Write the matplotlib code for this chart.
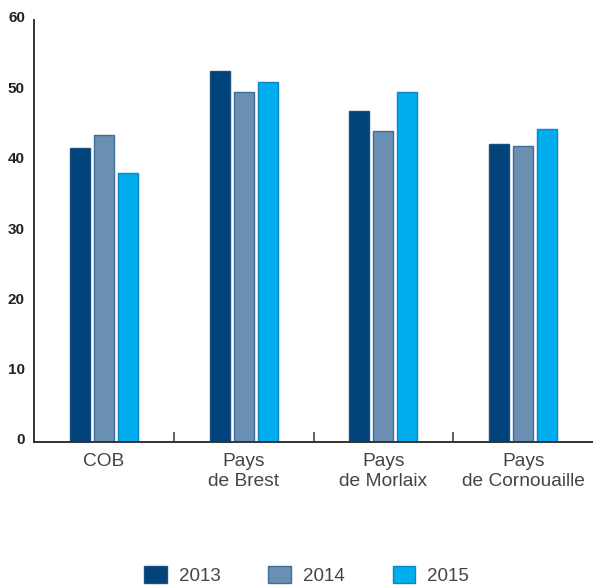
import matplotlib
matplotlib.use("Agg")
import matplotlib.pyplot as plt
import matplotlib.transforms as mtransforms
import numpy as np
from matplotlib.patches import Patch

categories = ["COB", "Pays\nde Brest", "Pays\nde Morlaix", "Pays\nde Cornouaille"]
years = ["2013", "2014", "2015"]
values_2013 = [41.8, 52.8, 47.1, 42.3]
values_2014 = [43.6, 49.8, 44.2, 42.1]
values_2015 = [38.3, 51.2, 49.8, 44.5]
y_ticks = [0, 10, 20, 30, 40, 50, 60]

colors = ["#00427a", "#6a8fb3", "#00aeef"]
edges = ["#1b4f80", "#3f6d9a", "#0c86c4"]

plt.rcParams["font.family"] = ["Liberation Sans", "DejaVu Sans"]

fig = plt.figure(figsize=(5.93, 5.87), dpi=100)
ax = fig.add_axes([34 / 593, 1 - 442 / 587, 1 - 34 / 593, (442 - 20) / 587])

x = np.arange(len(categories))
step = 0.171
width = 0.143
series = [values_2013, values_2014, values_2015]
for i, vals in enumerate(series):
    ax.bar(x + (i - 1) * step, vals, width=width, color=colors[i],
           edgecolor=edges[i], linewidth=1.0, zorder=2)

ax.set_xlim(-0.5, 3.5)
ax.set_ylim(0, 60)
ax.set_yticks(y_ticks)
ax.set_yticklabels([str(v) for v in y_ticks], fontsize=11, fontweight="bold", color="#222222")
ax.tick_params(axis="y", length=0, pad=6.5)
# labels sit a little above their values in the reference
shift = mtransforms.ScaledTranslation(0, 3 / 100, fig.dpi_scale_trans)
for lab in ax.get_yticklabels():
    lab.set_transform(lab.get_transform() + shift)
ax.set_xticks(x)
ax.set_xticklabels(categories, fontsize=13.8, color="#444444")
ax.tick_params(axis="x", which="major", length=0, pad=8)
ax.set_xticks([0.5, 1.5, 2.5], minor=True)
ax.tick_params(axis="x", which="minor", direction="in", length=7, width=1.3, color="#555555")

for side in ("top", "right"):
    ax.spines[side].set_visible(False)
for side in ("left", "bottom"):
    ax.spines[side].set_color("#333333")
    ax.spines[side].set_linewidth(1.4)

handles = [Patch(facecolor=colors[i], edgecolor=edges[i], label=years[i]) for i in range(3)]
leg = fig.legend(handles=handles, loc="lower center", bbox_to_anchor=(0.517, -0.025),
                 ncol=3, frameon=False, fontsize=13.5, handlelength=1.2, handleheight=1.0,
                 handletextpad=0.65, columnspacing=2.55)
for t in leg.get_texts():
    t.set_color("#444444")

fig.savefig("out.png", dpi=100)
